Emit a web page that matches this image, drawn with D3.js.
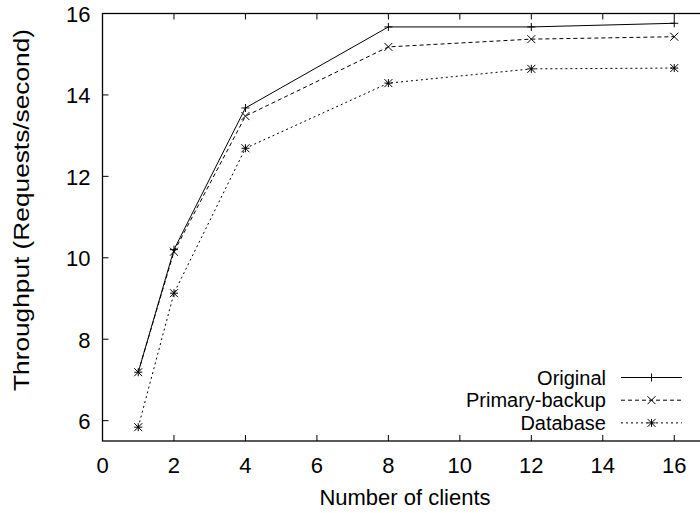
<!DOCTYPE html>
<html lang="en">
<head>
   <meta charset="UTF-8">
   <title>Throughput vs clients</title>
   <style>
      body { margin: 0; background: white; }
      text {
         font-family: "Liberation Sans", Arial, sans-serif;
         fill: black;
      }
      path.series { fill: none; stroke: black; stroke-width: 1; }
      .marker { stroke: black; stroke-width: 1; fill: none; }
   </style>
   <script src="https://cdn.jsdelivr.net/npm/d3@7"></script>
</head>
<body>
   <div class="d3"></div>
   <script>
      // data
      const clients = [1, 2, 4, 8, 12, 16]
      const original = [7.19, 10.2, 13.68, 15.67, 15.67, 15.76]
      const primaryBackup = [7.19, 10.15, 13.48, 15.18, 15.37, 15.43]
      const database = [5.84, 9.13, 12.69, 14.29, 14.64, 14.66]

      const seriesNames = ['Original', 'Primary-backup', 'Database']
      const xTicks = [0, 2, 4, 6, 8, 10, 12, 14, 16]
      const yTicks = [6, 8, 10, 12, 14, 16]

      const W = 700, H = 513
      const margin = { top: 13.5, right: -10, bottom: 72, left: 102.5 }

      const svg = d3.select('.d3').append('svg')
         .attr('width', W)
         .attr('height', H)

      const x = d3.scaleLinear()
         .domain([0, 17])
         .range([margin.left, W - margin.right])
      const y = d3.scaleLinear()
         .domain([5.5, 16])
         .range([H - margin.bottom, margin.top])

      const fontSize = 22
      const tickLen = 6

      // frame
      svg.append('rect')
         .attr('x', x(0)).attr('y', y(16))
         .attr('width', x(17) - x(0)).attr('height', y(5.5) - y(16))
         .attr('fill', 'none').attr('stroke', 'black').attr('stroke-width', 1.3)

      // ticks (inward, mirrored)
      const g = svg.append('g')
      xTicks.forEach(t => {
         g.append('line').attr('x1', x(t)).attr('x2', x(t))
            .attr('y1', y(5.5)).attr('y2', y(5.5) - tickLen).attr('stroke', 'black')
         g.append('line').attr('x1', x(t)).attr('x2', x(t))
            .attr('y1', y(16)).attr('y2', y(16) + tickLen).attr('stroke', 'black')
         g.append('text')
            .attr('x', x(t)).attr('y', y(5.5) + 32)
            .attr('text-anchor', 'middle')
            .attr('font-size', fontSize)
            .text(t)
      })
      yTicks.forEach(t => {
         g.append('line').attr('x1', x(0)).attr('x2', x(0) + tickLen)
            .attr('y1', y(t)).attr('y2', y(t)).attr('stroke', 'black')
         g.append('text')
            .attr('x', x(0) - 12).attr('y', y(t) + 8.5)
            .attr('text-anchor', 'end')
            .attr('font-size', fontSize)
            .text(t)
      })

      // axis labels
      svg.append('text')
         .attr('x', 405).attr('y', 505)
         .attr('text-anchor', 'middle')
         .attr('font-size', fontSize)
         .text('Number of clients')
      svg.append('text')
         .attr('transform', `translate(29, 210) rotate(-90)`)
         .attr('text-anchor', 'middle')
         .attr('font-size', fontSize)
         .attr('textLength', 362)
         .attr('lengthAdjust', 'spacingAndGlyphs')
         .text('Throughput (Requests/second)')

      // series
      const dashes = [null, '4,3', '2,3']
      const values = [original, primaryBackup, database]
      const line = d3.line()
         .x((d, i) => x(clients[i]))
         .y(d => y(d))

      const s = 4
      function marker(sel, kind, cx, cy) {
         const m = sel.append('g').attr('class', 'marker')
            .attr('transform', `translate(${cx}, ${cy})`)
         if (kind === 0 || kind === 2) {
            m.append('line').attr('x1', -s).attr('x2', s).attr('y1', 0).attr('y2', 0)
            m.append('line').attr('x1', 0).attr('x2', 0).attr('y1', -s).attr('y2', s)
         }
         if (kind === 1 || kind === 2) {
            m.append('line').attr('x1', -s).attr('x2', s).attr('y1', -s).attr('y2', s)
            m.append('line').attr('x1', -s).attr('x2', s).attr('y1', s).attr('y2', -s)
         }
      }

      values.forEach((vals, k) => {
         svg.append('path')
            .datum(vals)
            .attr('class', 'series')
            .attr('stroke-dasharray', dashes[k])
            .attr('d', line)
         vals.forEach((v, i) => marker(svg, k, x(clients[i]), y(v)))
      })

      // legend
      const legend = svg.append('g')
      seriesNames.forEach((name, k) => {
         const ly = 377.5 + k * 22.7
         legend.append('text')
            .attr('x', 606).attr('y', ly + 7)
            .attr('text-anchor', 'end')
            .attr('font-size', 20)
            .text(name)
         legend.append('line')
            .attr('x1', 621).attr('x2', 682)
            .attr('y1', ly).attr('y2', ly)
            .attr('stroke', 'black')
            .attr('stroke-dasharray', dashes[k])
         marker(legend, k, 651.5, ly)
      })
   </script>
</body>
</html>
